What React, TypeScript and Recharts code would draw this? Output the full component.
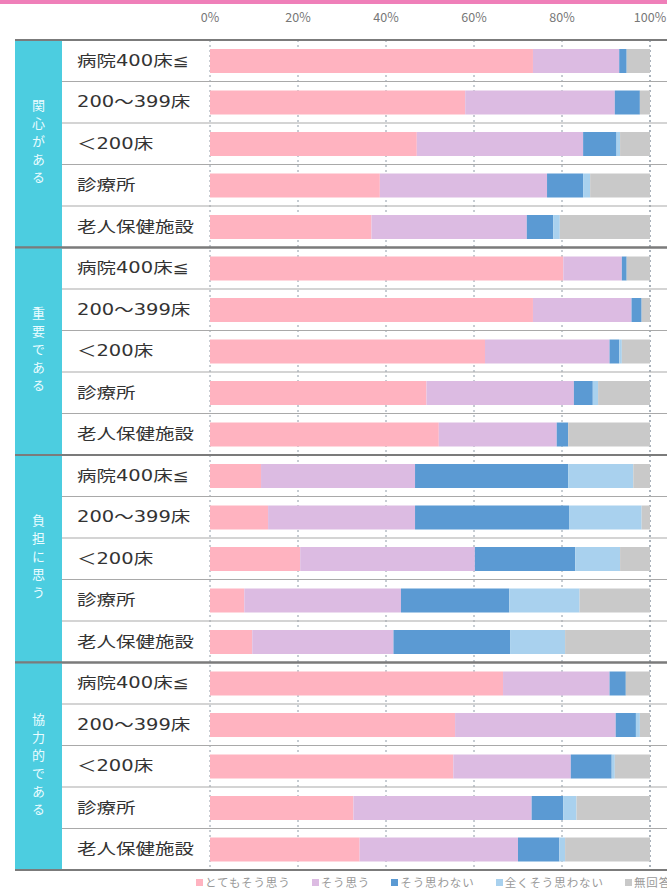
import { BarChart, Bar, XAxis, YAxis, CartesianGrid, Legend } from 'recharts';

const groups = ['関心がある', '重要である', '負担に思う', '協力的である'];
const facilities = ['病院400床≦', '200〜399床', '＜200床', '診療所', '老人保健施設'];
const xTicks = [0, 20, 40, 60, 80, 100];

const seriesNames = ['とてもそう思う', 'そう思う', 'そう思わない', '全くそう思わない', '無回答'];
const seriesColors = ['#ffb3c0', '#dcbbe2', '#5b9ad3', '#a9d1ee', '#c9c9c9'];

// 4 groups x 5 facilities (percent)
const veryMuch = [73.4, 58, 47, 38.6, 36.7, 80.3, 73.4, 62.5, 49.2, 52, 11.6, 13.2, 20.5, 7.8, 9.6, 66.6, 55.7, 55.3, 32.6, 34];
const agree = [19.6, 34, 37.8, 38, 35.3, 13.3, 22.4, 28.3, 33.5, 26.8, 35, 33.4, 39.7, 35.6, 32.1, 24.2, 36.5, 26.7, 40.5, 36];
const disagree = [1.7, 5.7, 7.6, 8.2, 6, 1.1, 2.3, 2.2, 4.3, 2.6, 34.8, 35, 22.8, 24.6, 26.5, 3.7, 4.6, 9.3, 7.2, 9.4];
const notAtAll = [0, 0, 0.8, 1.6, 1.5, 0, 0, 0.6, 1.2, 0, 14.8, 16.5, 10.2, 16, 12.5, 0, 0.9, 0.7, 3, 1.3];
const noAnswer = [5.3, 2.3, 6.8, 13.6, 20.5, 5.3, 1.9, 6.4, 11.8, 18.6, 3.8, 1.9, 6.8, 16, 19.3, 5.5, 2.3, 8, 16.7, 19.3];

const seriesKeys = ['veryMuch', 'agree', 'disagree', 'notAtAll', 'noAnswer'];
const seriesValues = [veryMuch, agree, disagree, notAtAll, noAnswer];

const data = groups.flatMap((g, gi) =>
  facilities.map((f, fi) => {
    const i = gi * facilities.length + fi;
    const row: Record<string, string | number> = { key: `${gi}-${fi}`, group: g, label: f };
    seriesKeys.forEach((k, si) => { row[k] = seriesValues[si][i]; });
    return row;
  })
);

const W = 667;
const H = 893;
const TOP = 40;
const BOTTOM = 870;
const ROW_H = (BOTTOM - TOP) / data.length;
const CYAN = '#4ccde0';
const FONT = '"Noto Sans CJK JP", "Noto Sans", sans-serif';
const LABEL_FONT = '"DejaVu Sans", "Noto Sans CJK JP", sans-serif';

function RowTick(props: any) {
  const { y, index } = props;
  const row = data[index];
  if (!row) return null;
  const fi = index % facilities.length;
  const top = y - ROW_H / 2;
  const bottom = y + ROW_H / 2;
  return (
    <g>
      {fi === 0 && (
        <>
          <rect x={15} y={top} width={47} height={ROW_H * facilities.length} fill={CYAN} />
          <text
            x={38.5}
            y={top + (ROW_H * facilities.length) / 2}
            textAnchor="middle"
            fill="#eafcff"
            fontSize={13}
            fontFamily={FONT}
            style={{ writingMode: 'vertical-rl', letterSpacing: 5 }}
          >
            {row.group}
          </text>
          <line x1={15} x2={W} y1={top} y2={top} stroke="#7b7b7b" strokeWidth={2} />
        </>
      )}
      <text
        transform={`translate(77 ${y}) scale(1.3 1)`}
        x={0}
        y={0}
        dominantBaseline="central"
        fill="#333"
        fontSize={15}
        fontFamily={LABEL_FONT}
      >
        {row.label}
      </text>
      {fi === facilities.length - 1 ? (
        <line x1={15} x2={W} y1={bottom} y2={bottom} stroke="#7b7b7b" strokeWidth={2} />
      ) : (
        <line x1={62} x2={W} y1={bottom} y2={bottom} stroke="#a9a9a9" strokeWidth={1.2} />
      )}
    </g>
  );
}

function PctTick(props: any) {
  const { x, payload } = props;
  return (
    <text x={x} y={22} textAnchor="middle" fill="#777" fontSize={12.5} fontFamily={FONT}>
      {`${payload.value}%`}
    </text>
  );
}

function LegendRow() {
  return (
    <div style={{ display: 'flex', alignItems: 'center', fontFamily: FONT, fontSize: 11.5, color: '#999', whiteSpace: 'nowrap' }}>
      {seriesNames.map((n, i) => (
        <span key={n} style={{ display: 'inline-flex', alignItems: 'center', marginRight: 21 }}>
          <span style={{ width: 7, height: 7, background: seriesColors[i], marginRight: 2, display: 'inline-block' }} />
          <span style={{ letterSpacing: 0.9 }}>{n}</span>
        </span>
      ))}
    </div>
  );
}

export default function App() {
  return (
    <div style={{ position: 'absolute', left: 0, top: 0, width: W, height: H, background: '#fff', overflow: 'hidden' }}>
      <div style={{ position: 'absolute', left: 0, top: 0, width: W, height: 4, background: '#ef7fb9' }} />
      <BarChart
        layout="vertical"
        width={W}
        height={H}
        data={data}
        margin={{ top: 0, right: 17, bottom: H - BOTTOM, left: 0 }}
        barSize={24}
      >
        <CartesianGrid horizontal={false} stroke="#8e9aa6" strokeDasharray="2 3" />
        <XAxis
          type="number"
          orientation="top"
          domain={[0, 100]}
          ticks={xTicks}
          height={TOP}
          tick={<PctTick />}
          tickLine={false}
          axisLine={false}
        />
        <YAxis
          type="category"
          dataKey="key"
          width={210}
          interval={0}
          tick={<RowTick />}
          tickLine={false}
          axisLine={false}
        />
        {seriesKeys.map((k, i) => (
          <Bar key={k} dataKey={k} name={seriesNames[i]} stackId="a" fill={seriesColors[i]} isAnimationActive={false} />
        ))}
        <Legend
          verticalAlign="middle"
          layout="horizontal"
          wrapperStyle={{ top: 874, left: 196, width: 500 }}
          content={() => <LegendRow />}
        />
      </BarChart>
    </div>
  );
}
